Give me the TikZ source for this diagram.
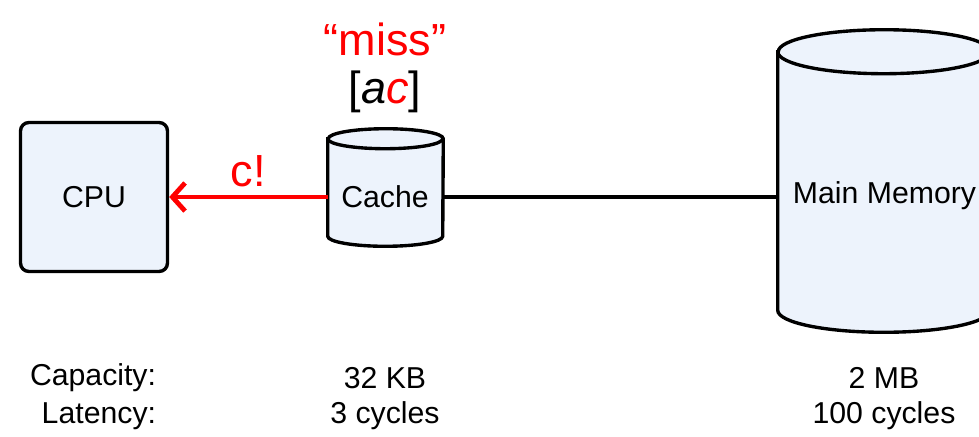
\documentclass[tikz,border=0pt]{standalone}
\usepackage{fontspec}
\setmainfont{Liberation Sans}
\usetikzlibrary{arrows.meta,positioning}
\definecolor{boxfill}{HTML}{EDF3FC}
\definecolor{missred}{HTML}{FF0000}
\tikzset{
  base/.style={font=\fontsize{21.5}{26}\selectfont},
  big/.style={font=\fontsize{32}{38}\selectfont},
  unit/.style={base,draw,fill=boxfill,line width=2.4pt},
  slot/.style={inner sep=0pt},
  wire/.style={line width=3.4pt},
}
% cylinder over a node: name, half width (px), end radius (px)
\newcommand\drawstore[3]{%
  \draw[unit] ([yshift=-#3*0.025cm]#1.north west) -- ([yshift=#3*0.025cm]#1.south west)
    arc[start angle=180,end angle=360,x radius=#2*0.025cm,y radius=#3*0.025cm]
    -- ([yshift=-#3*0.025cm]#1.north east)
    arc[start angle=0,end angle=180,x radius=#2*0.025cm,y radius=#3*0.025cm] -- cycle;
  \draw[unit,fill=none] ([yshift=-#3*0.025cm]#1.north west)
    arc[start angle=180,end angle=360,x radius=#2*0.025cm,y radius=#3*0.025cm];}
\begin{document}
\begin{tikzpicture}[x=0.025cm,y=-0.025cm]
\useasboundingbox (0,0) rectangle (979,436);
\node[unit,rounded corners=6pt,minimum width=147*0.025cm,minimum height=149*0.025cm] (cpu) at (94,197) {CPU};
\node[slot,minimum width=115*0.025cm,minimum height=117*0.025cm] (cache) at (385.5,187.5) {};
\drawstore{cache}{57.5}{10}
\node[base] (cachetxt) at (385,197) {Cache};
\node[slot,minimum width=212*0.025cm,minimum height=302*0.025cm] (mem) at (884,181) {};
\drawstore{mem}{106}{22}
\node[base,anchor=west] (memtxt) at (788,196) {Main Memory};
% connectors
\draw[wire,missred,-{Straight Barb[length=9pt,width=20pt]}] (cache.west |- cachetxt) -- (cpu.east |- cachetxt)
  node[midway,above=2pt,big] (hit) {c!};
\draw[wire] (cache.east |- cachetxt) -- (mem.west |- cachetxt);
% labels above the cache
\node[big,missred] (miss) at (385,39) {``miss''};
\node[big] (set) at (385,92) {[\textit{a}\textcolor{missred}{\textit{c}}]};
% table below
\node[base,anchor=east] (caplbl) at (161,378) {Capacity:};
\node[base,anchor=east] (latlbl) at (161,416) {Latency:};
\node[base] (capc) at (385,378) {32 KB};
\node[base] (latc) at (385,416) {3 cycles};
\node[base] (capm) at (884,378) {2 MB};
\node[base] (latm) at (884,416) {100 cycles};
\end{tikzpicture}
\end{document}
